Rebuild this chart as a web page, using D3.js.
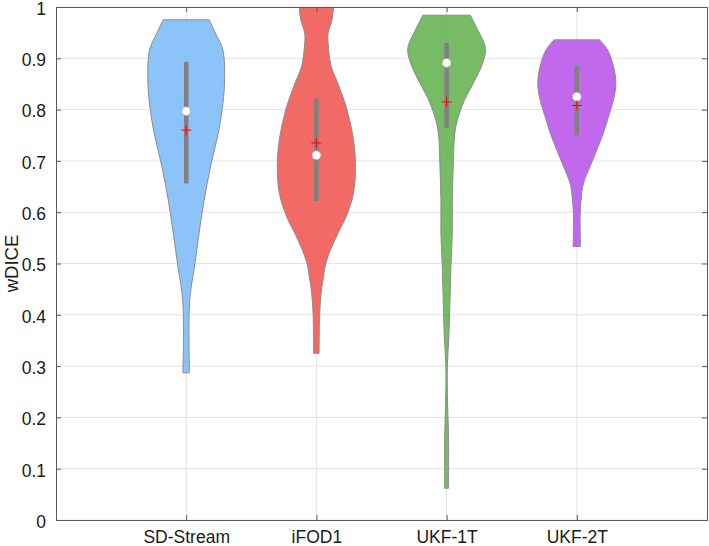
<!DOCTYPE html>
<html>
<head>
<meta charset="utf-8">
<script src="https://cdn.jsdelivr.net/npm/d3@7"></script>
<style>
  html, body { margin: 0; padding: 0; background: #fff; }
  svg { display: block; }
  text { font-family: "Liberation Sans", Arial, Helvetica, sans-serif; }
</style>
</head>
<body>
<svg id="chart" width="709" height="546"></svg>
<script>
// ---------------- data ----------------
const categories = ["SD-Stream", "iFOD1", "UKF-1T", "UKF-2T"];
const colors = ["#7fbcf7", "#f05a55", "#68b553", "#ba58ea"];

// Relative kernel density profiles [value, density(0..1)]
const densitySD = [[0.975,0.59],[0.949,0.75],[0.916,0.94],[0.852,0.98],[0.80,0.92],[0.754,0.82],[0.688,0.62],[0.624,0.46],[0.559,0.33],[0.493,0.21],[0.455,0.13],[0.423,0.085],[0.357,0.07],[0.287,0.085]];
const densityiFOD1 = [[1.0,0.44],[0.975,0.40],[0.949,0.30],[0.929,0.30],[0.884,0.38],[0.851,0.55],[0.806,0.76],[0.741,0.95],[0.689,1.0],[0.637,0.95],[0.591,0.76],[0.56,0.56],[0.53,0.38],[0.50,0.24],[0.468,0.17],[0.448,0.13],[0.403,0.085],[0.325,0.07]];
const densityUKF1T = [[0.984,0.61],[0.961,0.76],[0.925,0.98],[0.910,0.99],[0.884,0.89],[0.851,0.68],[0.819,0.46],[0.786,0.30],[0.754,0.21],[0.689,0.17],[0.624,0.145],[0.559,0.145],[0.493,0.11],[0.423,0.085],[0.357,0.058],[0.298,0.018],[0.228,0.025],[0.162,0.05],[0.097,0.05],[0.062,0.05]];
const densityUKF2T = [[0.936,0.58],[0.916,0.79],[0.884,0.94],[0.851,1.0],[0.819,0.94],[0.786,0.81],[0.754,0.68],[0.721,0.51],[0.689,0.34],[0.656,0.17],[0.624,0.11],[0.591,0.085],[0.533,0.095]];
const densities = [densitySD, densityiFOD1, densityUKF1T, densityUKF2T];

const medians = [0.797, 0.711, 0.891, 0.825];
const means = [0.760, 0.735, 0.815, 0.808];
const whiskerLow = [0.656, 0.622, 0.764, 0.750];
const whiskerHigh = [0.893, 0.822, 0.930, 0.885];

const yTicks = [0, 0.1, 0.2, 0.3, 0.4, 0.5, 0.6, 0.7, 0.8, 0.9, 1];
const yTickLabels = ["0", "0.1", "0.2", "0.3", "0.4", "0.5", "0.6", "0.7", "0.8", "0.9", "1"];
const yLabel = "wDICE";

// ---------------- layout ----------------
const W = 709, H = 546;
const m = { left: 56, right: 2, top: 7, bottom: 26 };
const iw = W - m.left - m.right, ih = H - m.top - m.bottom;
const tickFont = "17.5px", labelFont = "18.5px";

const svg = d3.select("#chart");
const g = svg.append("g").attr("transform", `translate(${m.left},${m.top})`);

const x = d3.scaleLinear().domain([0, categories.length + 1]).range([0, iw]);
const y = d3.scaleLinear().domain([0, 1]).range([ih, 0]);
const halfW = d3.scaleLinear().domain([0, 1]).range([0, 0.3]); // data units on x

svg.append("defs").append("clipPath").attr("id", "clip")
  .append("rect").attr("width", iw).attr("height", ih);

// grid
const grid = g.append("g");
grid.selectAll("line.h").data(yTicks).join("line")
  .attr("x1", 0).attr("x2", iw)
  .attr("y1", d => y(d)).attr("y2", d => y(d))
  .attr("stroke", "#e3e3e3").attr("stroke-width", 1);
grid.selectAll("line.v").data(categories).join("line")
  .attr("y1", 0).attr("y2", ih)
  .attr("x1", (d, i) => x(i + 1)).attr("x2", (d, i) => x(i + 1))
  .attr("stroke", "#e3e3e3").attr("stroke-width", 1);

// violins
const plot = g.append("g").attr("clip-path", "url(#clip)");
categories.forEach((c, i) => {
  const cx = i + 1;
  const area = d3.area()
    .y(d => y(d[0]))
    .x0(d => x(cx - halfW(d[1])))
    .x1(d => x(cx + halfW(d[1])))
    .curve(d3.curveCatmullRom.alpha(0.5));
  plot.append("path")
    .datum(densities[i])
    .attr("d", area)
    .attr("fill", colors[i])
    .attr("fill-opacity", 0.9)
    .attr("stroke", "#8c8c8c")
    .attr("stroke-width", 1);
});

// whiskers
plot.selectAll("line.wh").data(categories).join("line")
  .attr("x1", (d, i) => x(i + 1)).attr("x2", (d, i) => x(i + 1))
  .attr("y1", (d, i) => y(whiskerLow[i])).attr("y2", (d, i) => y(whiskerHigh[i]))
  .attr("stroke", "#808080").attr("stroke-width", 4.5);

// medians
plot.selectAll("circle.med").data(categories).join("circle")
  .attr("cx", (d, i) => x(i + 1)).attr("cy", (d, i) => y(medians[i]))
  .attr("r", 4.5).attr("fill", "#fff").attr("stroke", "#9a9a9a").attr("stroke-width", 0.6);

// means (red plus)
const plus = plot.selectAll("g.mean").data(categories).join("g")
  .attr("transform", (d, i) => `translate(${x(i + 1)},${y(means[i])})`);
plus.append("line").attr("x1", -5).attr("x2", 5).attr("y1", 0).attr("y2", 0)
  .attr("stroke", "#ff0000").attr("stroke-width", 1);
plus.append("line").attr("x1", 0).attr("x2", 0).attr("y1", -5).attr("y2", 5)
  .attr("stroke", "#ff0000").attr("stroke-width", 1);

// axes
const axisColor = "#5a5a5a";
const yAxis = d3.axisLeft(y).tickValues(yTicks)
  .tickFormat((d, i) => yTickLabels[i]).tickSize(-5).tickPadding(10);
const yAxisR = d3.axisRight(y).tickValues(yTicks).tickFormat("").tickSize(-5);
const xAxis = d3.axisBottom(x).tickValues(categories.map((d, i) => i + 1))
  .tickFormat((d, i) => categories[i]).tickSize(-5).tickPadding(11);
const xAxisT = d3.axisTop(x).tickValues(categories.map((d, i) => i + 1))
  .tickFormat("").tickSize(-5);

function style(sel) {
  sel.select(".domain").attr("stroke", axisColor).attr("stroke-width", 1);
  sel.selectAll(".tick line").attr("stroke", axisColor);
  sel.selectAll(".tick text").attr("fill", "#1a1a1a")
    .style("font-size", tickFont)
    .style("font-family", '"Liberation Sans", Arial, Helvetica, sans-serif');
}
g.append("g").call(yAxis).call(style).selectAll(".tick text").attr("dy", "0.42em");
g.append("g").attr("transform", `translate(${iw},0)`).call(yAxisR).call(style);
g.append("g").attr("transform", `translate(0,${ih})`).call(xAxis).call(style);
g.append("g").call(xAxisT).call(style);

// y label
svg.append("text")
  .attr("transform", `translate(18,${m.top + ih / 2}) rotate(-90)`)
  .attr("text-anchor", "middle")
  .attr("fill", "#1a1a1a")
  .style("font-size", labelFont)
  .text(yLabel);
</script>
</body>
</html>
